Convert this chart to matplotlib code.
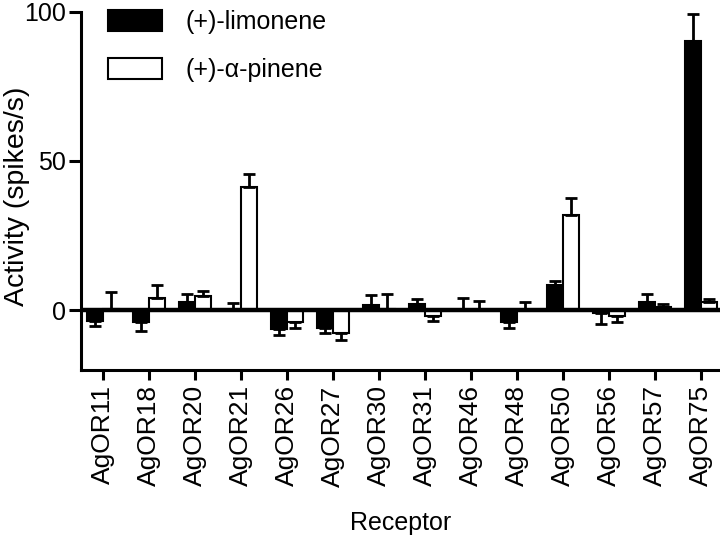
import numpy as np
import matplotlib
matplotlib.use('Agg')
from matplotlib import pyplot as plt

plt.rcParams['font.family'] = ['Liberation Sans', 'DejaVu Sans']

receptors = ['AgOR11', 'AgOR18', 'AgOR20', 'AgOR21', 'AgOR26', 'AgOR27', 'AgOR30',
             'AgOR31', 'AgOR46', 'AgOR48', 'AgOR50', 'AgOR56', 'AgOR57', 'AgOR75']
limonene = [-3.5, -4.0, 2.6, 0.0, -6.3, -5.8, 1.7, 2.1, 0.0, -4.1, 8.4, -1.0, 2.6, 90.0]
limonene_err = [1.7, 3.0, 2.7, 2.3, 2.0, 1.7, 3.4, 1.8, 4.0, 1.9, 1.3, 3.5, 2.7, 9.0]
pinene = [0.5, 4.0, 4.9, 41.4, -4.1, -7.7, 0.3, -1.8, 0.0, 0.0, 32.0, -1.8, 1.2, 2.6]
pinene_err = [5.5, 4.4, 1.6, 4.1, 1.7, 2.2, 5.1, 1.7, 3.2, 2.7, 5.7, 2.3, 1.0, 1.2]


def one_sided(vals, errs):
    # error bar only in the direction of the bar
    lo = [e if v < 0 else 0 for v, e in zip(vals, errs)]
    hi = [e if v >= 0 else 0 for v, e in zip(vals, errs)]
    return [lo, hi]


x = np.arange(len(receptors))
w = 0.35

fig = plt.figure(figsize=(7.2, 5.39), dpi=100)
ax = fig.add_axes([81 / 720, 1 - 370 / 539, 639 / 720, 358.5 / 539])

ekw = dict(elinewidth=2, capsize=4, capthick=2, ecolor='black')
ax.bar(x - w / 2, limonene, w, color='black', edgecolor='black', linewidth=1.5,
       yerr=one_sided(limonene, limonene_err), error_kw=ekw, label='(+)-limonene')
ax.bar(x + w / 2, pinene, w, color='white', edgecolor='black', linewidth=1.5,
       yerr=one_sided(pinene, pinene_err), error_kw=ekw, label='(+)-\u03b1-pinene')
ax.axhline(0, color='black', lw=3.2, zorder=5)

ax.set_xlim(-0.48, 13.41)
ax.set_ylim(-20, 100)
ax.set_yticks([0, 50, 100])
ax.set_xticks(x)
ax.set_xticklabels(receptors, rotation=90)
ax.tick_params(axis='y', labelsize=18, width=2.2, length=9, pad=2, color='black')
ax.tick_params(axis='x', labelsize=19, width=2.2, length=7, pad=4, color='black')
for s in ['top', 'right']:
    ax.spines[s].set_visible(False)
for s in ['left', 'bottom']:
    ax.spines[s].set_linewidth(2.2)

ax.set_ylabel('Activity (spikes/s)', fontsize=20.5)
ax.yaxis.set_label_coords(-0.08, 0.485)
ax.set_xlabel('Receptor', fontsize=18)
ax.xaxis.set_label_coords(0.5, -0.392)
ax.legend(loc='upper left', bbox_to_anchor=(0.042, 1.004), frameon=False, fontsize=18,
          borderpad=0, borderaxespad=0, handlelength=2.16, handleheight=0.92,
          handletextpad=0.96, labelspacing=0.95)

fig.savefig('out.png', dpi=100)
